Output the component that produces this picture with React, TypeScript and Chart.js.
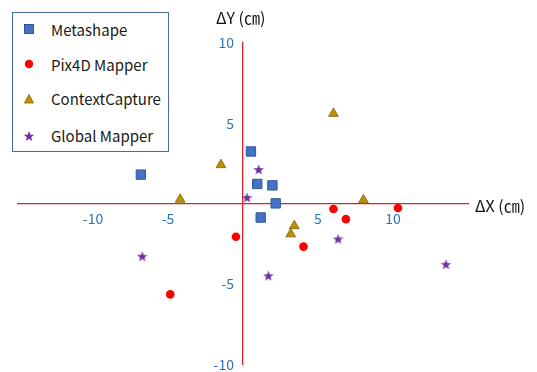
import React, { useEffect, useRef } from "react";
import { Chart, registerables } from "chart.js";

Chart.register(...registerables);

const metashapeX = [-6.81, 0.53, 0.95, 1.96, 2.18, 1.18];
const metashapeY = [1.81, 3.25, 1.23, 1.14, 0.02, -0.86];
const pix4dX = [-0.47, -4.85, 6.03, 6.86, 10.33, 4.03];
const pix4dY = [-2.06, -5.64, -0.33, -0.96, -0.27, -2.67];
const contextX = [-1.47, -4.19, 6.03, 8.03, 3.42, 3.18];
const contextY = [2.42, 0.27, 5.61, 0.23, -1.38, -1.89];
const globalX = [-6.72, 1.05, 0.27, 1.69, 6.34, 13.53];
const globalY = [-3.27, 2.13, 0.39, -4.48, -2.19, -3.77];

const seriesNames = ["Metashape", "Pix4D Mapper", "ContextCapture", "Global Mapper"];
const xTicks = [-10, -5, 5, 10];
const yTicks = [-10, -5, 5, 10];
const xTitle = "ΔX (㎝)";
const yTitle = "ΔY (㎝)";

const FONT = "'Noto Sans CJK KR', 'Noto Sans', sans-serif";
const TICK_COLOR = "#2e75b6";

function pts(xs: number[], ys: number[]) {
  return xs.map((x, i) => ({ x, y: ys[i] }));
}

function makeStar(size: number, color: string): HTMLCanvasElement {
  const c = document.createElement("canvas");
  c.width = size;
  c.height = size;
  const ctx = c.getContext("2d")!;
  const cx = size / 2;
  const cy = size / 2 + 0.5;
  const ro = size / 2;
  const ri = ro * 0.42;
  ctx.beginPath();
  for (let i = 0; i < 10; i++) {
    const r = i % 2 === 0 ? ro : ri;
    const a = -Math.PI / 2 + (i * Math.PI) / 5;
    const px = cx + r * Math.cos(a);
    const py = cy + r * Math.sin(a);
    if (i === 0) ctx.moveTo(px, py);
    else ctx.lineTo(px, py);
  }
  ctx.closePath();
  ctx.fillStyle = color;
  ctx.fill();
  return c;
}

// draws y-axis tick labels to the left of the centred y axis
const yLabelPlugin = {
  id: "yLabelsLeft",
  afterDatasetsDraw(chart: any) {
    const { ctx, scales } = chart;
    const xs = scales.x;
    const ys = scales.y;
    const axisX = xs.getPixelForValue(0);
    ctx.save();
    ctx.fillStyle = TICK_COLOR;
    ctx.font = `14px ${FONT}`;
    ctx.textAlign = "right";
    ctx.textBaseline = "middle";
    yTicks.forEach((v) => {
      ctx.fillText(String(v), axisX - 9, ys.getPixelForValue(v));
    });
    ctx.restore();
  },
};

function LegendMarker({ kind }: { kind: number }) {
  if (kind === 0)
    return (
      <svg width="12" height="12"><rect x="1.5" y="1.5" width="9" height="9" fill="#4472c4" stroke="#2f5597" strokeWidth="1" /></svg>
    );
  if (kind === 1)
    return (
      <svg width="12" height="12"><circle cx="6" cy="6" r="4.2" fill="#ff0000" /></svg>
    );
  if (kind === 2)
    return (
      <svg width="12" height="12"><polygon points="6,1.5 10.5,10 1.5,10" fill="#bf9000" stroke="#7f6000" strokeWidth="0.8" /></svg>
    );
  const pts5: string[] = [];
  for (let i = 0; i < 10; i++) {
    const r = i % 2 === 0 ? 5.5 : 2.3;
    const a = -Math.PI / 2 + (i * Math.PI) / 5;
    pts5.push(`${6 + r * Math.cos(a)},${6.5 + r * Math.sin(a)}`);
  }
  return (
    <svg width="12" height="12"><polygon points={pts5.join(" ")} fill="#7030a0" /></svg>
  );
}

export default function App() {
  const ref = useRef<HTMLCanvasElement>(null);

  useEffect(() => {
    if (!ref.current) return;
    const star = makeStar(11, "#7030a0");
    const chart = new Chart(ref.current, {
      type: "scatter",
      data: {
        datasets: [
          {
            label: seriesNames[0],
            data: pts(metashapeX, metashapeY),
            pointStyle: "rect",
            pointRadius: 6.6,
            backgroundColor: "#4472c4",
            borderColor: "#2f5597",
            borderWidth: 1,
          },
          {
            label: seriesNames[1],
            data: pts(pix4dX, pix4dY),
            pointStyle: "circle",
            pointRadius: 4.3,
            backgroundColor: "#ff0000",
            borderColor: "#ff0000",
            borderWidth: 0,
          },
          {
            label: seriesNames[2],
            data: pts(contextX, contextY),
            pointStyle: "triangle",
            pointRadius: 5.6,
            backgroundColor: "#bf9000",
            borderColor: "#7f6000",
            borderWidth: 0.8,
          },
          {
            label: seriesNames[3],
            data: pts(globalX, globalY),
            pointStyle: star as any,
            pointRadius: 5.5,
            backgroundColor: "#7030a0",
            borderColor: "#7030a0",
          },
        ],
      },
      options: {
        responsive: false,
        animation: false,
        layout: { padding: { left: 18, right: 69, top: 43, bottom: 1 } },
        plugins: { legend: { display: false }, tooltip: { enabled: false } },
        scales: {
          x: {
            type: "linear",
            min: -15,
            max: 15,
            position: { y: 0 } as any,
            grid: { display: false, drawTicks: false },
            border: { display: true, color: "#e0202a", width: 1.3 },
            afterBuildTicks: (s: any) => {
              s.ticks = xTicks.map((v) => ({ value: v }));
            },
            ticks: {
              color: TICK_COLOR,
              font: { family: FONT, size: 14 },
              padding: 7,
              maxRotation: 0,
              autoSkip: false,
            },
          },
          y: {
            type: "linear",
            min: -10,
            max: 10,
            position: { x: 0 } as any,
            grid: { display: false, drawTicks: false },
            border: { display: true, color: "#e0202a", width: 1.3 },
            afterBuildTicks: (s: any) => {
              s.ticks = yTicks.map((v) => ({ value: v }));
            },
            ticks: { display: false },
          },
        },
      },
      plugins: [yLabelPlugin],
    });
    return () => chart.destroy();
  }, []);

  return (
    <div style={{ position: "absolute", left: 0, top: 0, width: 537, height: 372, background: "#fff", fontFamily: FONT }}>
      <canvas ref={ref} width={537} height={372} style={{ position: "absolute", left: 0, top: 0 }} />
      <div
        style={{
          position: "absolute",
          left: 12,
          top: 12,
          width: 155,
          height: 138,
          border: "1.5px solid #4a6a9c",
          background: "#fff",
        }}
      >
        {seriesNames.map((n, i) => (
          <div
            key={n}
            style={{
              position: "absolute",
              left: 10,
              top: [16, 51, 85.5, 122.5][i] - 10,
              height: 20,
              display: "flex",
              alignItems: "center",
              whiteSpace: "nowrap",
            }}
          >
            <LegendMarker kind={i} />
            <span style={{ marginLeft: 16, fontSize: 15, color: "#1a1a1a" }}>{n}</span>
          </div>
        ))}
      </div>
      <div style={{ position: "absolute", left: 216, top: 6, fontSize: 16, color: "#111", whiteSpace: "nowrap", lineHeight: "22px" }}>
        {yTitle}
      </div>
      <div style={{ position: "absolute", left: 475, top: 194, fontSize: 16, color: "#111", whiteSpace: "nowrap", lineHeight: "22px" }}>
        {xTitle}
      </div>
    </div>
  );
}
